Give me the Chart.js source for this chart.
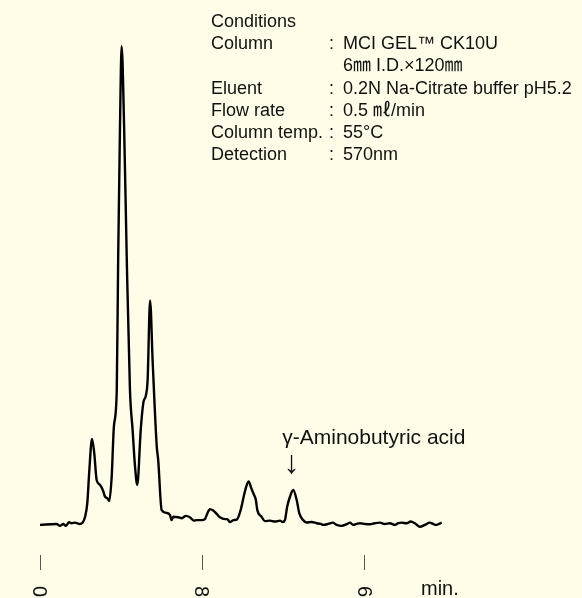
<!DOCTYPE html>
<html>
<head>
<meta charset="utf-8">
<script src="https://cdn.jsdelivr.net/npm/chart.js@4/dist/chart.umd.min.js"></script>
<style>
  html, body { margin: 0; padding: 0; background: #fffde7; }
  #wrap { position: relative; width: 582px; height: 598px; }
</style>
</head>
<body>
<div id="wrap"><canvas id="c" width="582" height="598"></canvas></div>
<script>
// Retention time (min)
const times = [
  0.00, 0.82, 0.98, 1.15, 1.27, 1.43, 1.56, 1.72, 1.97, 2.10,
  2.22, 2.33, 2.43, 2.56, 2.67, 2.79, 2.95, 3.12, 3.20, 3.31,
  3.41, 3.53, 3.64, 3.78, 3.85, 3.94, 4.02, 4.14, 4.27, 4.43,
  4.56, 4.68, 4.79, 4.96, 5.09, 5.22, 5.30, 5.42, 5.55, 5.75,
  5.82, 5.99, 6.24, 6.40, 6.48, 6.56, 6.81, 6.98, 7.19, 7.38,
  7.58, 7.71, 7.96, 8.12, 8.24, 8.37, 8.53, 8.70, 8.86, 9.11,
  9.22, 9.35, 9.52, 9.71, 9.88, 10.09, 10.27, 10.42, 10.54, 10.63,
  10.70, 10.91, 11.08, 11.32, 11.57, 11.82, 11.95, 12.06, 12.17, 12.31,
  12.47, 12.64, 12.77, 12.96, 13.13, 13.38, 13.62, 13.82, 13.95, 14.19,
  14.41, 14.61, 14.85, 15.10, 15.26, 15.42, 15.59, 15.75, 16.00, 16.25,
  16.49, 16.74, 16.98, 17.23, 17.48, 17.64, 17.81, 18.05, 18.25, 18.46,
  18.71, 18.95, 19.20, 19.36, 19.53, 19.78
];
// Detector response (relative, largest peak = 100)
const signal = [
  -0.2, 0.0, -0.4, 0.0, -0.4, 0.36, 0.15, 0.27, 0.0, 0.27,
  1.5, 4.4, 11.3, 17.8, 14.9, 9.2, 8.2, 6.8, 5.7, 5.4,
  4.8, 9.9, 20.5, 28.0, 56.0, 83.5, 100, 83.5, 56.0, 28.0,
  19.7, 12.0, 8.2, 19.7, 25.4, 27.0, 30.2, 46.8, 33.8, 16.2,
  13.4, 2.9, 2.3, 1.9, 0.8, 1.5, 1.4, 1.2, 1.7, 1.4,
  0.7, 0.8, 0.8, 1.0, 2.2, 3.1, 2.8, 2.1, 1.4, 1.0,
  1.0, 0.4, 0.8, 1.0, 2.9, 6.8, 8.9, 7.3, 6.1, 5.0,
  2.9, 1.5, 0.6, 0.7, 0.5, 0.7, 0.4, 0.8, 3.6, 5.7,
  7.1, 5.0, 2.2, 0.8, 0.3, 0.4, 0.15, 0.0, -0.2, 0.0,
  0.27, -0.2, -0.4, -0.06, 0.27, -0.2, 0.0, 0.15, 0.0, -0.06,
  0.15, 0.27, 0.0, 0.15, -0.2, 0.15, 0.27, 0.15, 0.5, 0.15,
  -0.6, -0.2, 0.27, 0.0, -0.2, 0.27
];
const tickValues = [0, 8, 16];
const tickLabels = ["0", "8", "6"];
const axisUnit = "min.";
const condLabels = ["Conditions", "Column", "", "Eluent", "Flow rate", "Column temp.", "Detection"];
const condValues = ["", "MCI GEL™ CK10U", "6㎜ I.D.×120㎜", "0.2N Na-Citrate buffer pH5.2", "0.5 ㎖/min", "55°C", "570nm"];
const peakLabel = "γ-Aminobutyric acid";
const peakTime = 12.47;

const FONT = '"Liberation Sans", "Noto Sans CJK JP", Arial, sans-serif';

const textPlugin = {
  id: 'texts',
  afterDraw(chart) {
    const ctx = chart.ctx;
    const xs = chart.scales.x;
    ctx.save();
    ctx.fillStyle = '#111';
    // conditions block
    ctx.font = '18px ' + FONT;
    ctx.textBaseline = 'alphabetic';
    ctx.textAlign = 'left';
    condLabels.forEach((lab, i) => {
      const y = 27 + i * 22.2;
      if (lab) ctx.fillText(lab, 211, y);
      if (i > 0 && lab) ctx.fillText(':', 329, y);
      if (condValues[i]) ctx.fillText(condValues[i], 343, y);
    });
    // peak annotation
    const px = xs.getPixelForValue(peakTime);
    ctx.font = '21px ' + FONT;
    ctx.fillText(peakLabel, px - 11, 444);
    ctx.textAlign = 'center';
    ctx.font = '32px ' + FONT;
    ctx.fillText('↓', px - 1.5, 473);
    // tick labels (rotated)
    ctx.font = '20px ' + FONT;
    ctx.textAlign = 'left';
    xs.ticks.forEach((t, i) => {
      const x = xs.getPixelForValue(t.value);
      ctx.save();
      ctx.translate(x - 7, 586);
      ctx.rotate(Math.PI / 2);
      ctx.fillText(tickLabels[i], 0, 0);
      ctx.restore();
    });
    ctx.font = '20px ' + FONT;
    ctx.fillText(axisUnit, 421, 595);
    ctx.restore();
  }
};

new Chart(document.getElementById('c'), {
  type: 'line',
  data: {
    datasets: [{
      data: times.map((t, i) => ({ x: t, y: signal[i] })),
      borderColor: '#000',
      borderWidth: 2.4,
      pointRadius: 0,
      cubicInterpolationMode: 'monotone',
      fill: false
    }]
  },
  options: {
    responsive: false,
    animation: false,
    layout: { padding: { left: 40, right: 14, top: 20, bottom: 28 } },
    plugins: { legend: { display: false }, tooltip: { enabled: false } },
    scales: {
      x: {
        type: 'linear',
        min: 0,
        max: 26,
        afterBuildTicks: (scale) => { scale.ticks = tickValues.map(v => ({ value: v })); },
        ticks: { display: false },
        grid: { drawOnChartArea: false, drawTicks: true, tickLength: 15, tickColor: '#555', lineWidth: 1 },
        border: { display: false }
      },
      y: {
        display: false,
        min: -6.5,
        max: 105.5
      }
    }
  },
  plugins: [textPlugin]
});
</script>
</body>
</html>
